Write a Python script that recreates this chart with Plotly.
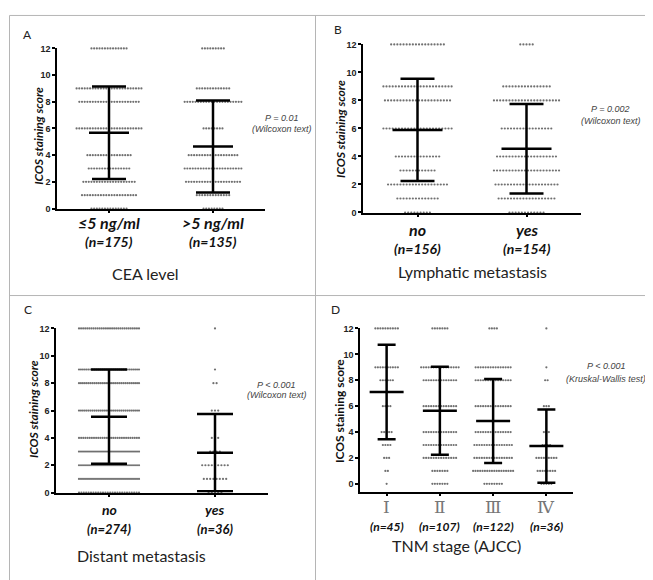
import plotly.graph_objects as go

W, H = 653, 580

# ---------------- data ----------------
levels = [12, 9, 8, 6, 4, 3, 2, 1, 0]
ytick_vals = [0, 2, 4, 6, 8, 10, 12]

a_groups = ["≤5 ng/ml", ">5 ng/ml"]
a_n = ["(n=175)", "(n=135)"]
a_counts = [[14, 25, 23, 25, 17, 16, 20, 21, 14],
            [9, 13, 22, 8, 19, 22, 21, 13, 8]]
a_mean = [5.68, 4.65]
a_sd = [3.47, 3.45]

b_groups = ["no", "yes"]
b_n = ["(n=156)", "(n=154)"]
b_counts = [[18, 23, 22, 23, 15, 12, 20, 14, 9],
            [5, 16, 22, 17, 20, 22, 21, 19, 12]]
b_mean = [5.9, 4.55]
b_sd = [3.65, 3.2]

c_groups = ["no", "yes"]
c_n = ["(n=274)", "(n=36)"]
c_counts = [[30, 32, 32, 32, 29, 31, 31, 31, 26],
            [1, 1, 2, 3, 3, 4, 9, 8, 5]]
c_mean = [5.55, 2.92]
c_sd = [3.45, 2.83]

d_groups = ["Ⅰ", "Ⅱ", "Ⅲ", "Ⅳ"]
d_n = ["(n=45)", "(n=107)", "(n=122)", "(n=36)"]
d_counts = [[10, 10, 6, 4, 5, 4, 3, 2, 1],
            [7, 16, 14, 14, 14, 14, 14, 7, 7],
            [4, 15, 15, 15, 15, 16, 16, 18, 8],
            [1, 1, 2, 3, 3, 4, 9, 8, 5]]
d_mean = [7.1, 5.65, 4.85, 2.92]
d_sd = [3.65, 3.4, 3.25, 2.83]

titles = ["CEA level", "Lymphatic metastasis", "Distant metastasis", "TNM stage (AJCC)"]
letters = ["A", "B", "C", "D"]
pvals = [["P = 0.01", "(Wilcoxon text)"], ["P = 0.002", "(Wilcoxon text)"],
         ["P < 0.001", "(Wilcoxon text)"], ["P < 0.001", "(Kruskal-Wallis test)"]]
ytitle = "ICOS staining score"

# ---------------- layout helpers ----------------
def px(x):
    return x / W

def py(y):
    return 1 - y / H

fig = go.Figure()
annotations = []
shapes = []

panels = [
    dict(groups=a_groups, ns=a_n, counts=a_counts, means=a_mean, sds=a_sd,
         xpx=(49, 257), ypx=(36, 199), yr=[0, 12], sp=2.7, maxw=66, mw=40, cw=17,
         letter=(19, 22), yt=(31, 125), cat_y=213, n_y=233, title=(137, 265),
         p=(273, 107, 118), italic_y=True, csize=16, nsize=14),
    dict(groups=b_groups, ns=b_n, counts=b_counts, means=b_mean, sds=b_sd,
         xpx=(355, 573), ypx=(32, 203), yr=[0, 12], sp=3.1, maxw=70, mw=50, cw=17,
         letter=(330, 17), yt=(333, 118), cat_y=220, n_y=240, title=(464, 263),
         p=(602, 98, 110), italic_y=True, csize=16, nsize=14),
    dict(groups=c_groups, ns=c_n, counts=c_counts, means=c_mean, sds=c_sd,
         xpx=(48, 260), ypx=(321, 488), yr=[0, 12], sp=3.2, maxw=60, mw=36, cw=18,
         letter=(20, 302), yt=(25, 403), cat_y=505, n_y=525, title=(133, 552),
         p=(268, 379, 389), italic_y=True, csize=14, nsize=13),
    dict(groups=d_groups, ns=d_n, counts=d_counts, means=d_mean, sds=d_sd,
         xpx=(352, 565), ypx=(321, 487), yr=[-0.6, 12], sp=2.5, maxw=40, mw=34, cw=9,
         letter=(328, 302), yt=(331, 405), cat_y=503, n_y=522, title=(448, 542),
         p=(598, 359, 372), italic_y=False, csize=17, nsize=12),
]

for k, P in enumerate(panels):
    i = k + 1
    xa = "x" if i == 1 else f"x{i}"
    ya = "y" if i == 1 else f"y{i}"
    ng = len(P["groups"])
    xr = [-0.5, ng - 0.5]
    ppu = (P["xpx"][1] - P["xpx"][0]) / (xr[1] - xr[0])
    # dots
    for g in range(ng):
        xs, ys = [], []
        for lev, c in zip(levels, P["counts"][g]):
            if c <= 0:
                continue
            step = P["sp"] if c == 1 else min(P["sp"], P["maxw"] / (c - 1))
            for j in range(c):
                off = (j - (c - 1) / 2) * step / ppu
                xs.append(g + off)
                ys.append(lev)
        fig.add_trace(go.Scatter(
            x=xs, y=ys, mode="markers", xaxis=xa, yaxis=ya, cliponaxis=False,
            marker=dict(size=2.2, color="#707070", line=dict(width=0)),
            showlegend=False, hoverinfo="skip"))
    # mean +- SD
    fig.add_trace(go.Scatter(
        x=list(range(ng)), y=P["means"], mode="markers", xaxis=xa, yaxis=ya,
        cliponaxis=False,
        marker=dict(symbol="line-ew", size=P["mw"] / 1.4,
                    line=dict(width=2.5, color="black")),
        error_y=dict(type="data", array=P["sds"], symmetric=True,
                     width=P["cw"], thickness=2.5, color="black"),
        showlegend=False, hoverinfo="skip"))

    dom_x = [px(P["xpx"][0]), px(P["xpx"][1])]
    dom_y = [py(P["ypx"][1]), py(P["ypx"][0])]
    axkw = dict(showline=True, linecolor="black", linewidth=1.5, ticks="outside",
                ticklen=3, tickwidth=1.5, tickcolor="black", showgrid=False,
                zeroline=False)
    fig.update_layout(**{
        ("xaxis" if i == 1 else f"xaxis{i}"): dict(
            domain=dom_x, range=xr, tickvals=list(range(ng)),
            ticktext=[""] * ng, anchor=ya, **axkw),
        ("yaxis" if i == 1 else f"yaxis{i}"): dict(
            domain=dom_y, range=P["yr"], tickvals=ytick_vals,
            ticktext=[f"<b>{v}</b>" for v in ytick_vals],
            tickfont=dict(family="Liberation Sans", size=9, color="#222"),
            anchor=xa, **axkw),
    })
    # category labels
    for g in range(ng):
        if i == 4:
            annotations.append(dict(
                x=g, y=py(P["cat_y"]), xref=xa, yref="paper", text=P["groups"][g],
                showarrow=False, font=dict(family="DejaVu Serif", size=P["csize"], color="#777"),
                xanchor="center", yanchor="middle"))
        else:
            annotations.append(dict(
                x=g, y=py(P["cat_y"]), xref=xa, yref="paper",
                text=f"<b><i>{P['groups'][g]}</i></b>",
                showarrow=False, font=dict(family="Lato", size=P["csize"], color="#111"),
                xanchor="center", yanchor="middle"))
        annotations.append(dict(
            x=g, y=py(P["n_y"]), xref=xa, yref="paper",
            text=f"<b><i>{P['ns'][g]}</i></b>",
            showarrow=False, font=dict(family="Lato", size=P["nsize"], color="#111"),
            xanchor="center", yanchor="middle"))
    # titles
    annotations.append(dict(
        x=px(P["title"][0]), y=py(P["title"][1]), xref="paper", yref="paper",
        text=titles[k], showarrow=False,
        font=dict(family="Lato", size=16, color="#222"),
        xanchor="center", yanchor="middle"))
    annotations.append(dict(
        x=px(P["letter"][0]), y=py(P["letter"][1]), xref="paper", yref="paper",
        text=letters[k], showarrow=False,
        font=dict(family="Lato", size=12, color="#222"),
        xanchor="center", yanchor="middle"))
    yt_text = f"<b><i>{ytitle}</i></b>" if P["italic_y"] else f"<b>{ytitle}</b>"
    annotations.append(dict(
        x=px(P["yt"][0]), y=py(P["yt"][1]), xref="paper", yref="paper",
        text=yt_text, showarrow=False, textangle=-90,
        font=dict(family="Lato", size=12, color="#111"),
        xanchor="center", yanchor="middle"))
    annotations.append(dict(
        x=px(P["p"][0]), y=py(P["p"][1]), xref="paper", yref="paper",
        text=f"<i>{pvals[k][0]}</i>", showarrow=False,
        font=dict(family="Liberation Sans", size=9, color="#444"),
        xanchor="center", yanchor="middle"))
    annotations.append(dict(
        x=px(P["p"][0]), y=py(P["p"][2]), xref="paper", yref="paper",
        text=f"<i>{pvals[k][1]}</i>", showarrow=False,
        font=dict(family="Liberation Sans", size=9, color="#444"),
        xanchor="center", yanchor="middle"))

# panel frame lines
frame = "#b5b5b5"
shapes.append(dict(type="rect", xref="paper", yref="paper",
                   x0=px(1.5), x1=px(650.5), y0=py(578.5), y1=py(2.5),
                   line=dict(color=frame, width=1)))
shapes.append(dict(type="line", xref="paper", yref="paper",
                   x0=px(307.5), x1=px(307.5), y0=py(578.5), y1=py(2.5),
                   line=dict(color=frame, width=1)))
shapes.append(dict(type="line", xref="paper", yref="paper",
                   x0=px(1.5), x1=px(650.5), y0=py(287.5), y1=py(287.5),
                   line=dict(color=frame, width=1)))

fig.update_layout(
    width=W, height=H, margin=dict(l=0, r=0, t=0, b=0),
    paper_bgcolor="white", plot_bgcolor="white",
    annotations=annotations, shapes=shapes, showlegend=False,
)

fig.write_html("out.html")
